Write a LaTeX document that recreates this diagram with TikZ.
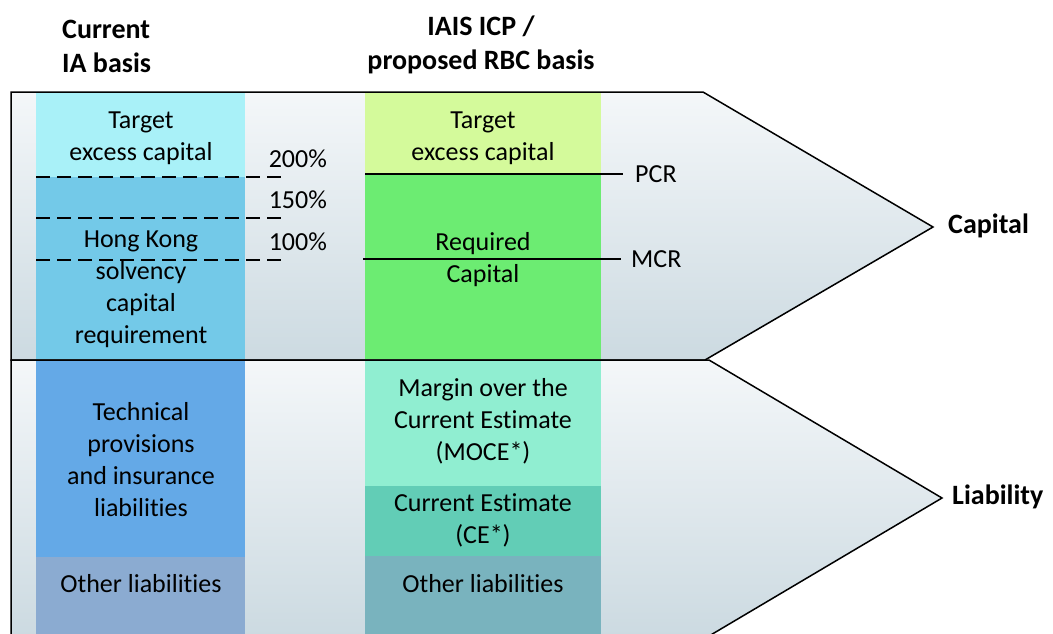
\documentclass[tikz,border=0pt]{standalone}
\usepackage{fontspec}
\setmainfont{Carlito}[Ligatures=NoCommon]
\usepackage{xcolor}
\usepackage{tikz}
\usetikzlibrary{positioning}

\definecolor{panelTop}{HTML}{F4F7F9}
\definecolor{panelBot}{HTML}{CCDAE1}
\definecolor{iaTarget}{HTML}{A9F1F8}
\definecolor{iaSolv}{HTML}{73C9E8}
\definecolor{iaTech}{HTML}{64A9E7}
\definecolor{iaOther}{HTML}{8BABD1}
\definecolor{rbcTarget}{HTML}{D4FA9B}
\definecolor{rbcReq}{HTML}{6CEC72}
\definecolor{rbcMoce}{HTML}{90EED1}
\definecolor{rbcCe}{HTML}{62CDB6}
\definecolor{rbcOther}{HTML}{79B3BE}

\begin{document}
\begin{tikzpicture}
		[
			x=1pt,y=-1pt,
			every node/.style={
					font=\fontsize{26}{32}\selectfont,align=center,inner sep=0pt},
			heading/.style={font=\fontsize{28}{34}\selectfont\bfseries},
			panel/.style={top color=panelTop,bottom color=panelBot},
			outline/.style={draw=black,line width=1.5pt,line join=miter},
			dashline/.style={line width=1.5pt,dash pattern=on 14pt off 7pt},
			ratioline/.style={line width=1.3pt},
			pct/.style={anchor=base west,xshift=-17pt,yshift=10pt}]
		\clip (0,0) rectangle (1053,633);

		% the two arrow panels
		\path[panel] (11,92) -- (703,92) -- (933,227) -- (705,360) -- (11,360) -- cycle;
		\path[panel] (11,360) -- (709,360) -- (942,498) -- (709,636) -- (11,636) -- cycle;

		% current IA basis column
		\fill[iaTarget] (36,93) rectangle (245,177);
		\fill[iaSolv] (36,177) rectangle (245,359);
		\fill[iaTech] (36,361) rectangle (245,557);
		\fill[iaOther] (36,557) rectangle (245,640);

		% RBC basis column
		\fill[rbcTarget] (365,93) rectangle (601,175);
		\fill[rbcReq] (365,175) rectangle (601,359);
		\fill[rbcMoce] (365,361) rectangle (601,486);
		\fill[rbcCe] (365,486) rectangle (601,556);
		\fill[rbcOther] (365,556) rectangle (601,640);

		\draw[outline] (11,92) -- (703,92) -- (933,227) -- (705,360) -- (11,360) -- cycle;
		\draw[outline] (11,360) -- (709,360) -- (942,498) -- (709,636) -- (11,636) -- cycle;

		% headings
		\node[heading,align=left,anchor=west] (IAHead) at (62,46) {Current\\IA basis};
		\node[heading] (RBCHead) at (481,45) {IAIS ICP /\\proposed RBC basis};
		\node[heading,anchor=west] (Capital) at (948,226) {Capital};
		\node[heading,anchor=west] (Liability) at (952,497) {Liability};

		% left column texts
		\node (IATarget) at (141,138) {Target\\excess capital};
		\node (IASolv) at (141,289) {Hong Kong\\solvency\\capital\\requirement};
		\node (IATech) at (141,460) {Technical\\provisions\\and insurance\\liabilities};
		\node (IAOther) at (141,584) {Other liabilities};

		% solvency ratio levels
		\foreach \y/\ratio in {177/200,218/150,260/100}
			{
				\draw[dashline] (36,\y) -- (285,\y)
				node[pct] (pct\ratio) {\ratio\%};
			}

		% right column texts
		\node (RBCTarget) at (483,138) {Target\\excess capital};
		\node (RBCReq) at (483,260) {Required\\Capital};
		\node (RBCMoce) at (483,421) {Margin over the\\Current Estimate\\(MOCE*)};
		\node (RBCCe) at (483,520) {Current Estimate\\(CE*)};
		\node (RBCOther) at (483,584) {Other liabilities};

		% PCR and MCR
		\node[anchor=west] (PCR) at (635,174) {PCR};
		\node[anchor=west] (MCR) at (631,259) {MCR};
		\coordinate (pcrStart) at (365,174);
		\coordinate (mcrStart) at (363,259);
		\draw[ratioline] (pcrStart) -- ([xshift=-12pt]pcrStart -| PCR.west);
		\draw[ratioline] (mcrStart) -- ([xshift=-10pt]mcrStart -| MCR.west);
	\end{tikzpicture}
\end{document}
